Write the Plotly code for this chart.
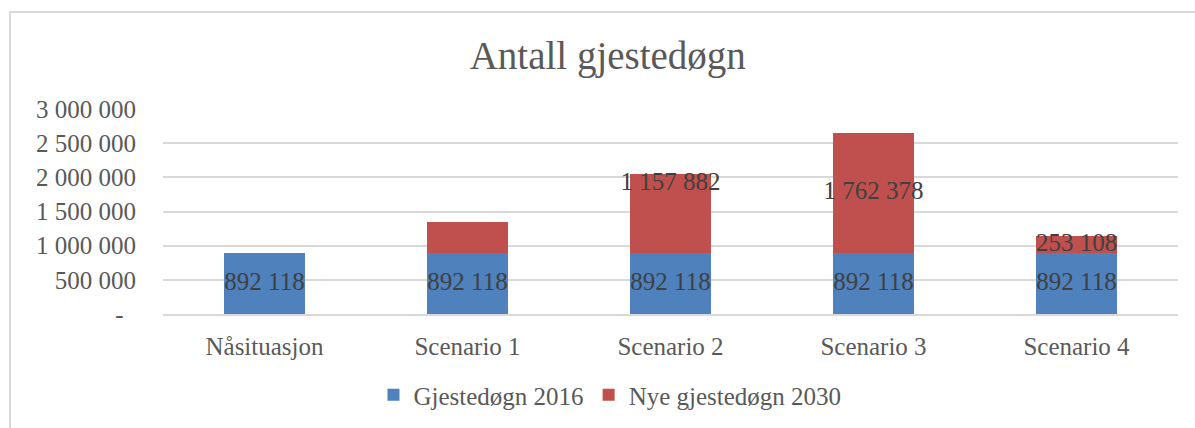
import plotly.graph_objects as go

categories = ["Nåsituasjon", "Scenario 1", "Scenario 2", "Scenario 3", "Scenario 4"]
base_2016 = [892118, 892118, 892118, 892118, 892118]
new_2030 = [0, 459000, 1157882, 1762378, 253108]
show_red_label = [False, False, True, True, True]
red_label_frac = [0.5, 0.5, 0.87, 0.5, 0.5]
y_ticks = [0, 500000, 1000000, 1500000, 2000000, 2500000, 3000000]
y_ticktext = ["-\u00a0\u00a0", "500 000", "1 000 000", "1 500 000", "2 000 000", "2 500 000", "3 000 000"]

FONT = "Liberation Serif"
BLUE = "#4F81BD"
RED = "#C0504D"


def fmt(v):
    return f"{v:,}".replace(",", " ")


fig = go.Figure()
fig.add_trace(go.Bar(x=categories, y=base_2016, name="Gjestedøgn 2016",
                     marker=dict(color=BLUE, line=dict(width=0)), width=0.4))
fig.add_trace(go.Bar(x=categories, y=new_2030, name="Nye gjestedøgn 2030",
                     marker=dict(color=RED, line=dict(width=0)), width=0.4))

# data labels
fig.add_trace(go.Scatter(x=categories, y=[b / 2 for b in base_2016], mode="text",
                         text=[fmt(b) for b in base_2016],
                         textfont=dict(family=FONT, size=25, color="#404040"),
                         showlegend=False, hoverinfo="skip", cliponaxis=False))
red_y = [b + n * f for b, n, f in zip(base_2016, new_2030, red_label_frac)]
red_t = [fmt(n) if s else "" for n, s in zip(new_2030, show_red_label)]
fig.add_trace(go.Scatter(x=categories, y=red_y, mode="text", text=red_t,
                         textfont=dict(family=FONT, size=25, color="#404040"),
                         showlegend=False, hoverinfo="skip", cliponaxis=False))

L, R, T, B = 163, 17, 109, 114
W, H = 1195, 428
pw = W - L - R
ph = H - T - B

fig.update_layout(
    width=W, height=H,
    barmode="stack",
    margin=dict(l=L, r=R, t=T, b=B, autoexpand=False),
    paper_bgcolor="white", plot_bgcolor="white",
    font=dict(family=FONT, color="#595959", size=25),
    title=dict(text="Antall gjestedøgn", x=0.5086, xanchor="center", y=1 - 55 / H, yanchor="middle",
               font=dict(family=FONT, size=39, color="#595959")),
    legend=dict(orientation="h", x=(610 - L) / pw, xanchor="center", y=(H - B - 395) / ph, yanchor="middle",
                font=dict(family=FONT, size=25, color="#595959"), traceorder="normal",
                itemwidth=30, bgcolor="rgba(0,0,0,0)"),
    xaxis=dict(showgrid=False, showline=True, linecolor="#d9d9d9", linewidth=2, automargin=False,
               ticks="", tickfont=dict(family=FONT, size=25, color="#595959"),
               ticklabelstandoff=9, range=[-0.5, 4.5]),
    yaxis=dict(range=[0, 3000000], tickvals=y_ticks, ticktext=y_ticktext, automargin=False,
               showgrid=True, gridcolor="#d9d9d9", gridwidth=2, zeroline=False,
               showline=False, ticks="", ticklabelstandoff=26,
               tickfont=dict(family=FONT, size=25, color="#595959")),
    showlegend=True,
)

# chart frame border (cropped)
fig.add_shape(type="rect", xref="paper", yref="paper",
              x0=(10 - L) / pw, x1=(1210 - L) / pw,
              y0=(H - B - 440) / ph, y1=(H - B - 12) / ph,
              line=dict(color="#d9d9d9", width=2), fillcolor="rgba(0,0,0,0)", layer="below")

fig.write_html("out.html", config={"displayModeBar": False},
               post_script="document.body.style.margin='0';document.body.style.overflow='hidden';")
